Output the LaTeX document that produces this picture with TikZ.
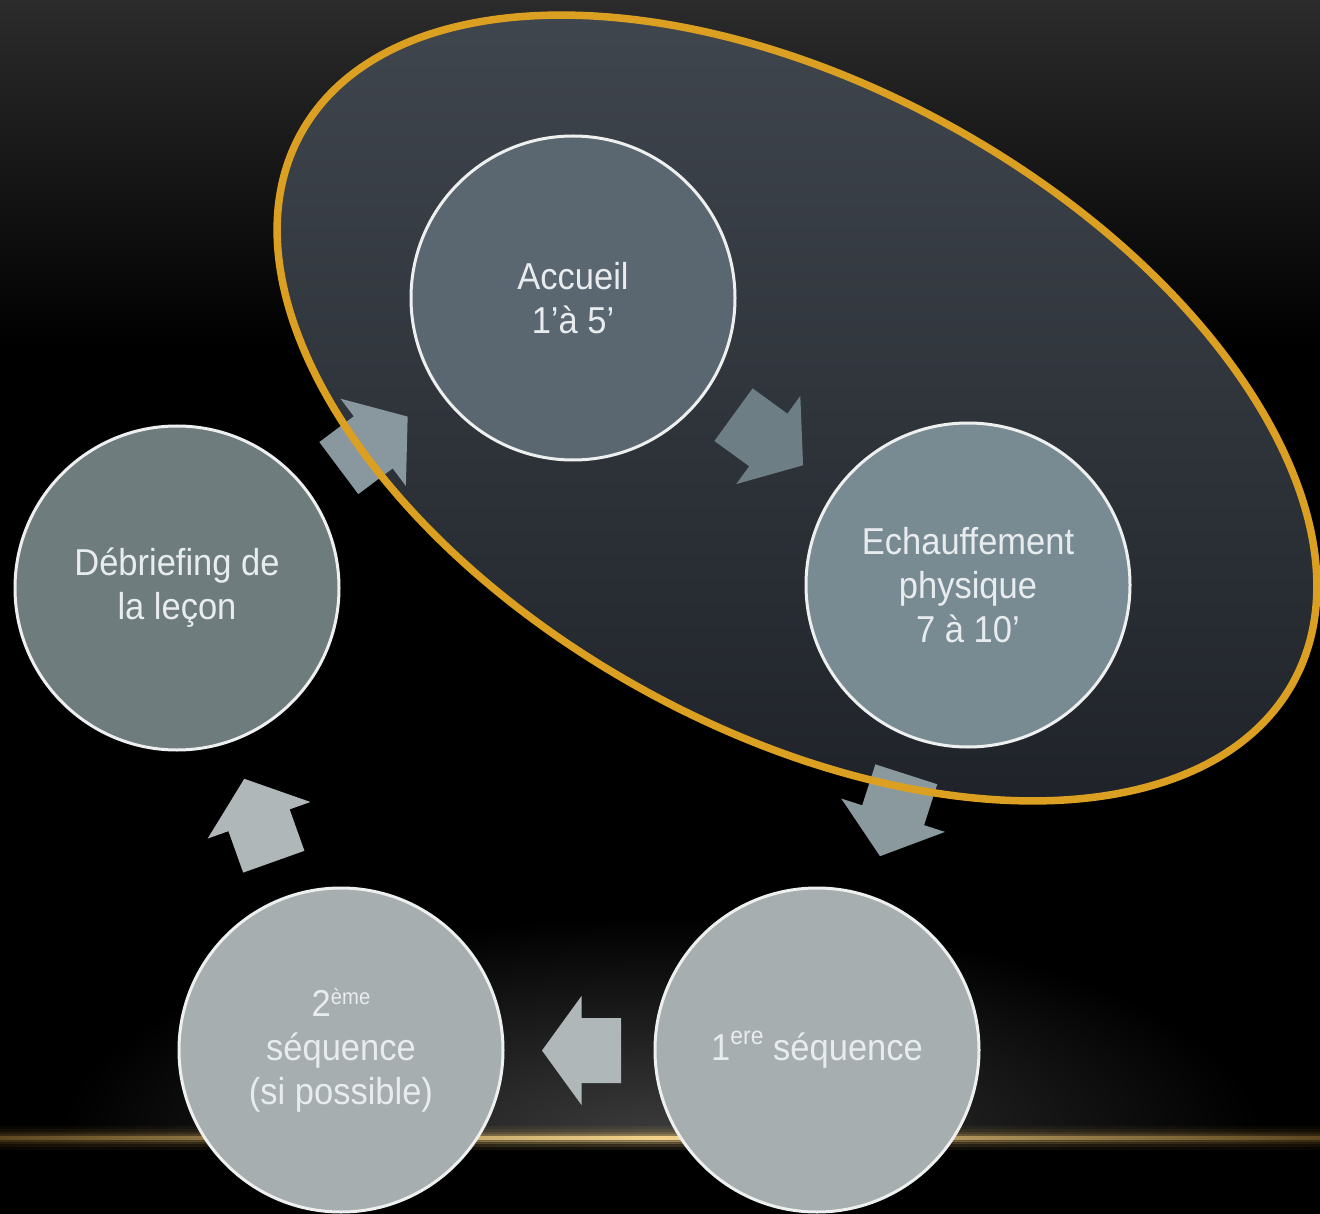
\documentclass[tikz,border=0pt]{standalone}
\usepackage{fontspec}
\setmainfont[FakeStretch=0.92]{Liberation Sans}
\definecolor{bgtop}{HTML}{2B2B2B}
\definecolor{glowgray}{HTML}{3C3C3C}
\definecolor{golddim}{HTML}{5E4820}
\definecolor{goldbright}{HTML}{F4D48C}
\definecolor{ringtop}{HTML}{40464E}
\definecolor{ringbottom}{HTML}{1F2329}
\definecolor{ringline}{HTML}{DBA021}
\definecolor{circleline}{HTML}{EEF0F0}
\definecolor{labeltext}{HTML}{E8ECEE}
\definecolor{fillaccueil}{HTML}{5A6770}
\definecolor{fillechauff}{HTML}{798B92}
\definecolor{filldebrief}{HTML}{6E7C7D}
\definecolor{fillseq}{HTML}{A7AEAF}
\definecolor{arrowA}{HTML}{89989E}
\definecolor{arrowB}{HTML}{6E7E85}
\definecolor{arrowC}{HTML}{8A999E}
\definecolor{arrowD}{HTML}{B0B7B8}
\begin{document}
\begin{tikzpicture}[x=1pt,y=-1pt,
  stage/.style={circle, draw=circleline, line width=3pt, minimum size=324pt,
    inner sep=0pt, text=labeltext, align=center,
    font=\fontsize{37.5}{44}\selectfont},
  horizon/.style={left color=golddim, right color=golddim, middle color=goldbright},
  pics/blockarrow/.style n args={2}{code={
    \fill[#2] (0,-32.5) -- ({#1/2},-32.5) -- ({#1/2},-54.5) -- (#1,0)
      -- ({#1/2},54.5) -- ({#1/2},32.5) -- (0,32.5) -- cycle;}}]
\useasboundingbox (0,0) rectangle (1320,1214);

% background
\fill[black] (0,0) rectangle (1320,1214);
\fill[top color=bgtop, bottom color=black] (0,0) rectangle (1320,350);
\begin{scope}
  \clip (0,880) rectangle (1320,1137);
  \fill[inner color=glowgray, outer color=black] (660,1137) ellipse [x radius=600, y radius=220];
\end{scope}
% horizon line with a soft glow
\fill[horizon, opacity=0.10] (0,1126) rectangle (1320,1149);
\fill[horizon, opacity=0.15] (0,1129) rectangle (1320,1146);
\fill[horizon, opacity=0.25] (0,1132) rectangle (1320,1143);
\fill[horizon, opacity=0.45] (0,1134) rectangle (1320,1141);
\fill[horizon] (0,1136) rectangle (1320,1139);

% highlighted area
\begin{scope}
  \clip[rotate around={-29:(797,408)}] (797,408) ellipse [x radius=567, y radius=321];
  \fill[top color=ringtop, bottom color=ringbottom] (200,10) rectangle (1320,810);
\end{scope}

% stages
\node[stage, fill=fillaccueil] (accueil) at (573,298) {Accueil\\1’à 5’};
\node[stage, fill=fillechauff] (echauff) at (968,585) {Echauffement\\physique\\7 à 10’};
\node[stage, fill=fillseq] (seqone) at (817,1050)
  {1\raisebox{16pt}{\fontsize{25}{25}\selectfont ere} séquence};
\node[stage, fill=fillseq] (seqtwo) at (341,1050)
  {2\raisebox{12pt}{\fontsize{22}{22}\selectfont ème}\\séquence\\(si possible)};
\node[stage, fill=filldebrief] (debrief) at (177,588) {Débriefing de\\la leçon};

% cycle arrows
\pic (toaccueil) at (338.8,468.1) [rotate=36.8] {blockarrow={86}{arrowA}};
\pic (toechauff) at (733.5,414.7) [rotate=-36] {blockarrow={86}{arrowB}};
\pic (toseqone) at (906.3,774.3) [rotate=-107.8] {blockarrow={86}{arrowC}};
\pic (toseqtwo) at (621,1050.5) [rotate=180] {blockarrow={79}{arrowD}};
\pic (todebrief) at (273.8,861.7) [rotate=109.6] {blockarrow={88}{arrowD}};

% outline of the highlighted area
\draw[ringline, line width=7.5pt, rotate around={-29:(797,408)}] (797,408) ellipse [x radius=567, y radius=321];
\end{tikzpicture}
\end{document}
